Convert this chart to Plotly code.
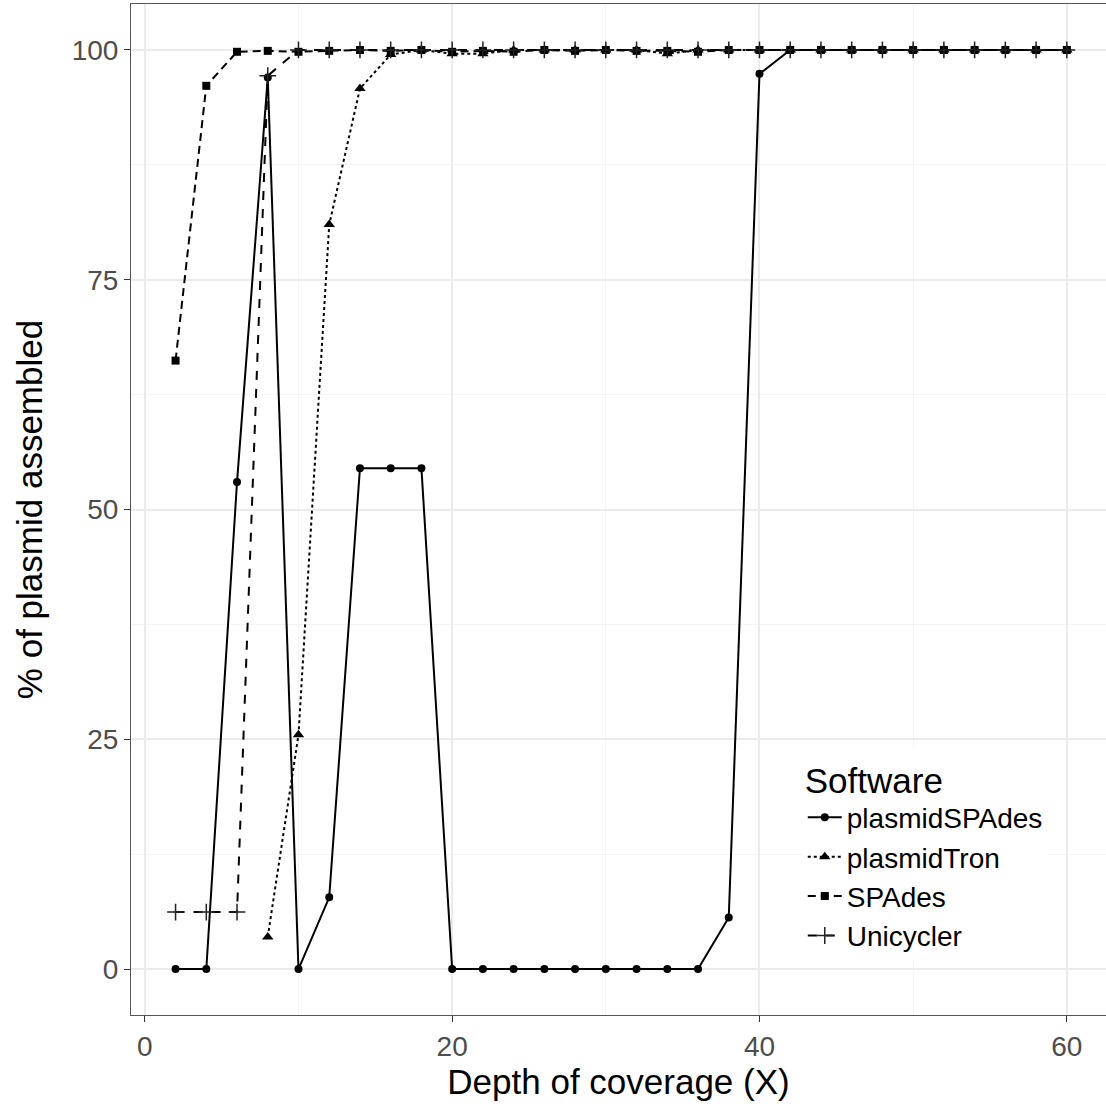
import plotly.graph_objects as go

depth = list(range(2, 62, 2))

plasmidSPAdes_x = depth
plasmidSPAdes_y = [0, 0, 53, 97, 0, 7.8, 54.5, 54.5, 54.5, 0, 0, 0, 0, 0, 0, 0, 0, 0, 5.6, 97.4,
                   100, 100, 100, 100, 100, 100, 100, 100, 100, 100]

plasmidTron_x = list(range(8, 62, 2))
plasmidTron_y = [3.5, 25.5, 81, 95.8, 99.5, 100, 99.6, 99.6, 100, 100, 100, 100, 100, 99.6,
                 100, 100, 100, 100, 100, 100, 100, 100, 100, 100, 100, 100, 100]

SPAdes_x = depth
SPAdes_y = [66.2, 96.1, 99.8, 99.9, 99.8, 99.9, 100, 99.9, 100, 99.8, 99.9, 99.8, 100, 99.9, 100,
            99.9, 99.9, 99.8, 100, 100, 100, 100, 100, 100, 100, 100, 100, 100, 100, 100]

Unicycler_x = depth
Unicycler_y = [6.2, 6.2, 6.2, 97.2, 100, 100, 100, 100, 100, 100, 100, 100, 100, 100, 100,
               100, 100, 100, 100, 100, 100, 100, 100, 100, 100, 100, 100, 100, 100, 100]

x_ticks = [0, 20, 40, 60]
y_ticks = [0, 25, 50, 75, 100]

FONT = "Liberation Sans, Arial, Helvetica, sans-serif"

fig = go.Figure()
fig.add_trace(go.Scatter(x=plasmidSPAdes_x, y=plasmidSPAdes_y, name="plasmidSPAdes",
                         legendgroup="a", mode="lines+markers",
                         line=dict(color="black", width=2, dash="solid"),
                         marker=dict(symbol="circle", size=8, color="black")))
fig.add_trace(go.Scatter(x=plasmidTron_x, y=plasmidTron_y, name="plasmidTron",
                         legendgroup="b", mode="lines+markers",
                         line=dict(color="black", width=2, dash="3px,3px"),
                         marker=dict(symbol="triangle-up", size=10, color="black")))
fig.add_trace(go.Scatter(x=SPAdes_x, y=SPAdes_y, name="SPAdes",
                         legendgroup="c", mode="lines+markers",
                         line=dict(color="black", width=2, dash="8px,5px"),
                         marker=dict(symbol="square", size=8, color="black")))
fig.add_trace(go.Scatter(x=Unicycler_x, y=Unicycler_y, name="Unicycler",
                         legendgroup="d", mode="lines+markers",
                         line=dict(color="black", width=2, dash="9px,9px"),
                         marker=dict(symbol="cross-thin", size=12,
                                     line=dict(color="#222222", width=1.5))))

axis_common = dict(
    showline=True, mirror=True, linecolor="#555555", linewidth=1,
    ticks="outside", ticklen=6, tickcolor="#333333", tickwidth=1.2,
    tickfont=dict(family=FONT, size=28, color="#4d4d4d"),
    showgrid=True, gridcolor="#ebebeb", gridwidth=1.5,
    zeroline=False,
)

fig.update_layout(
    width=1106, height=1107,
    margin=dict(l=131, r=0, t=4, b=92),
    paper_bgcolor="white", plot_bgcolor="white",
    font=dict(family=FONT, color="black"),
    xaxis=dict(range=[-0.9, 62.55], tickvals=x_ticks,
               title=dict(text="Depth of coverage (X)", font=dict(size=35, color="black"), standoff=8)),
    yaxis=dict(range=[-5, 105], tickvals=y_ticks,
               title=dict(text="% of plasmid assembled", font=dict(size=35, color="black"), standoff=18)),
    legend=dict(
        title=dict(text="Software", font=dict(size=35, color="black")),
        font=dict(size=28, color="black"),
        x=0.689, y=0.265, xanchor="left", yanchor="top",
        bgcolor="white", borderwidth=0, itemwidth=34, tracegroupgap=0,
    ),
)
fig.update_xaxes(**axis_common)
fig.update_yaxes(**axis_common)
fig.update_xaxes(minor=dict(dtick=10, showgrid=True, gridcolor="#f4f4f4", gridwidth=1, ticks=""))
fig.update_yaxes(minor=dict(dtick=12.5, showgrid=True, gridcolor="#f4f4f4", gridwidth=1, ticks=""))

fig.write_html("out.html", config={"displayModeBar": False},
               post_script="document.body.style.margin='0';")
